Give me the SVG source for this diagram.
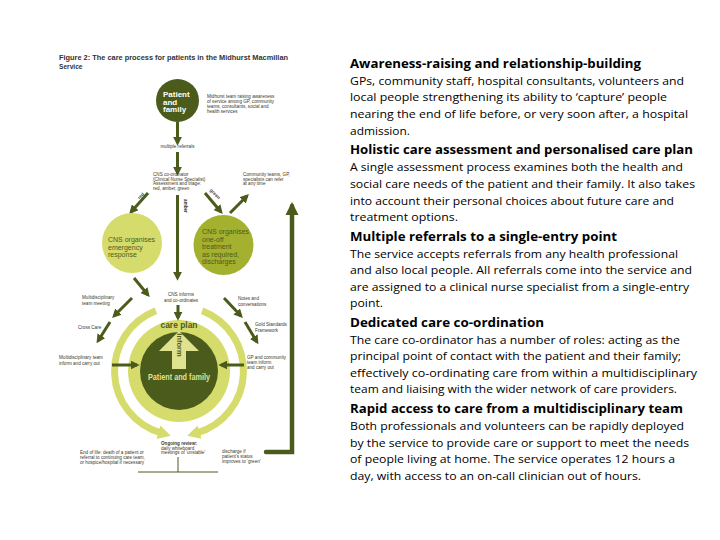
<svg xmlns="http://www.w3.org/2000/svg" width="720" height="540" viewBox="0 0 720 540">
<style>
.h{font-family:"Open Sans","Liberation Sans",sans-serif;font-weight:bold;font-size:12.5px;fill:#000}
.b{font-family:"Open Sans","Liberation Sans",sans-serif;font-size:11.5px;fill:#000}
.t{font-family:"Liberation Sans",sans-serif;font-weight:bold;font-size:6.6px;fill:#333}
.s{font-family:"Liberation Sans",sans-serif;font-size:4.6px;fill:#3a3a2a}
.sb{font-family:"Liberation Sans",sans-serif;font-size:4.6px;font-weight:bold;fill:#3a3a2a}
.c{font-family:"Liberation Sans",sans-serif;font-size:7px;fill:#4b5b1c}
.w{font-family:"Liberation Sans",sans-serif;font-weight:bold;font-size:8px;fill:#fff}
.dk{fill:#4b5b1c}
.lt{fill:#d6dc6c}
.md{fill:#a4b12f}
.ar{stroke:#4b5b1c;stroke-width:3;fill:none;marker-end:url(#ah)}
.ring{stroke:#d6dc6c;stroke-width:7;fill:none;marker-end:url(#lh)}
</style>
<defs>
<marker id="ah" viewBox="0 0 10 10" refX="7" refY="5" markerWidth="3" markerHeight="3" orient="auto" markerUnits="strokeWidth"><path d="M0,0 L10,5 L0,10 z" fill="#4b5b1c"/></marker>
<marker id="lh" viewBox="0 0 14 14" refX="3" refY="7" markerWidth="14" markerHeight="14" orient="auto" markerUnits="userSpaceOnUse"><path d="M0,0 L13,7 L0,14 z" fill="#d6dc6c"/></marker>
</defs>
<rect width="720" height="540" fill="#fff"/>

<g id="title">
<text class="t" x="59" y="60" textLength="229" lengthAdjust="spacingAndGlyphs">Figure 2: The care process for patients in the Midhurst Macmillan</text>
<text class="t" x="59" y="69">Service</text>
</g>

<g id="rings">
<circle cx="179" cy="371" r="51" class="lt"/>
<path class="ring" d="M155.9,310.8 A64.5,64.5 0 0 0 161.2,433"/>
<path class="ring" d="M202.1,310.8 A64.5,64.5 0 0 1 196.8,433"/>
</g>

<g id="connectors">
<line class="ar" x1="177.5" y1="122" x2="177.5" y2="143"/>
<line class="ar" x1="177.5" y1="152" x2="177.5" y2="173"/>
<line class="ar" x1="148" y1="193" x2="131" y2="212"/>
<line class="ar" x1="177.5" y1="195" x2="177.5" y2="278"/>
<line class="ar" x1="205" y1="193" x2="221" y2="212"/>
<line class="ar" x1="230" y1="213" x2="247" y2="196"/>
<line class="ar" x1="134" y1="278" x2="148" y2="295"/>
<line class="ar" x1="178" y1="305" x2="178" y2="318"/>
<line class="ar" x1="132" y1="298" x2="114" y2="316"/>
<line class="ar" x1="110" y1="322" x2="98" y2="341"/>
<line class="ar" x1="112" y1="365" x2="137" y2="365"/>
<line class="ar" x1="224" y1="298" x2="241" y2="316"/>
<line class="ar" x1="245" y1="322" x2="257" y2="342"/>
<line class="ar" x1="244" y1="365" x2="221" y2="365"/>
<path d="M266,452 L292,452 L292,206" stroke="#4b5b1c" stroke-width="4.5" fill="none" stroke-linecap="round" marker-end="url(#ah)"/>
<path d="M138,472 L218,472 M178,457 L178,472" stroke="#4b5b1c" stroke-width="1" fill="none"/>
</g>

<g id="patient-top">
<circle cx="177.5" cy="100.5" r="21.5" class="dk"/>
<text class="w" x="163" y="97">Patient</text>
<text class="w" x="163" y="104.5">and</text>
<text class="w" x="163" y="112">family</text>
<text class="s" x="207" y="98">Midhurst team raising awareness</text>
<text class="s" x="207" y="103">of service among GP, community</text>
<text class="s" x="207" y="108">teams, consultants, social and</text>
<text class="s" x="207" y="113">health services</text>
</g>

<g id="referrals">
<text class="s" x="177.5" y="148" text-anchor="middle">multiple referrals</text>
</g>

<g id="coordinator">
<text class="s" x="153" y="176">CNS co-ordinator</text>
<text class="s" x="153" y="180.5">(Clinical Nurse Specialist)</text>
<text class="s" x="153" y="185">Assessment and triage:</text>
<text class="s" x="153" y="189.5">red, amber, green</text>
<text class="sb" transform="translate(142,197) rotate(-45)" text-anchor="middle">red</text>
<text class="sb" transform="translate(184,206) rotate(90)" text-anchor="middle">amber</text>
<text class="sb" transform="translate(214,195) rotate(45)" text-anchor="middle">green</text>
</g>

<g id="community">
<text class="s" x="243" y="176">Community teams, GP,</text>
<text class="s" x="243" y="180.5">specialists can refer</text>
<text class="s" x="243" y="185">at any time</text>
</g>

<g id="emergency">
<circle cx="132" cy="243" r="30" class="lt"/>
<text class="c" x="108" y="242">CNS organises</text>
<text class="c" x="108" y="249.5">emergency</text>
<text class="c" x="108" y="257">response</text>
</g>

<g id="oneoff">
<circle cx="223.5" cy="245" r="30" class="md"/>
<text class="c" x="202" y="234">CNS organises</text>
<text class="c" x="202" y="241.5">one-off</text>
<text class="c" x="202" y="249">treatment</text>
<text class="c" x="202" y="256.5">as required,</text>
<text class="c" x="202" y="264">discharges</text>
</g>

<g id="informs">
<text class="s" x="181" y="296" text-anchor="middle">CNS informs</text>
<text class="s" x="181" y="301.5" text-anchor="middle">and co-ordinates</text>
</g>

<g id="careplan">
<circle cx="179" cy="371" r="39" class="dk"/>
<text x="179" y="328" text-anchor="middle" textLength="37" lengthAdjust="spacingAndGlyphs" style="font-family:'Liberation Sans',sans-serif;font-weight:bold;font-size:9px;fill:#4b5b1c">care plan</text>
<polygon points="179,331 199,351 186,351 186,369 172,369 172,351 159,351" fill="#dfe38f"/>
<text transform="translate(179,345) rotate(90)" text-anchor="middle" dominant-baseline="central" style="font-family:'Liberation Sans',sans-serif;font-weight:bold;font-size:7.5px;fill:#4b5b1c">Inform</text>
<text x="179" y="380" text-anchor="middle" textLength="62" lengthAdjust="spacingAndGlyphs" style="font-family:'Liberation Sans',sans-serif;font-weight:bold;font-size:8.5px;fill:#dfe38f">Patient and family</text>
</g>

<g id="left-labels">
<text class="s" x="82" y="299">Multidisciplinary</text>
<text class="s" x="82" y="304.5">team meeting</text>
<text class="s" x="78" y="329">Cross Care</text>
<text class="s" x="59" y="359">Multidisciplinary team</text>
<text class="s" x="59" y="364.5">inform and carry out</text>
</g>

<g id="right-labels">
<text class="s" x="238" y="300">Notes and</text>
<text class="s" x="238" y="305.5">conversations</text>
<text class="s" x="255" y="326">Gold Standards</text>
<text class="s" x="255" y="331.5">Framework</text>
<text class="s" x="247" y="359">GP and community</text>
<text class="s" x="247" y="364">team inform</text>
<text class="s" x="247" y="369">and carry out</text>
</g>

<g id="bottom-labels">
<text class="s" x="80" y="454">End of life: death of a patient or</text>
<text class="s" x="80" y="459">referral to continuing care team,</text>
<text class="s" x="80" y="464">or hospice/hospital if necessary</text>
<text class="sb" x="161" y="445">Ongoing review:</text>
<text class="s" x="161" y="449.5">daily whiteboard</text>
<text class="s" x="161" y="454">meetings of ‘unstable’</text>
<text class="s" x="222" y="453">discharge if</text>
<text class="s" x="222" y="458">patient’s status</text>
<text class="s" x="222" y="463">improves to ‘green’</text>
</g>

<g id="text-column">
<text class="h" x="350" y="68" textLength="291" lengthAdjust="spacingAndGlyphs">Awareness-raising and relationship-building</text>
<text class="b" x="350" y="84.5" textLength="334" lengthAdjust="spacingAndGlyphs">GPs, community staff, hospital consultants, volunteers and</text>
<text class="b" x="350" y="101" textLength="317" lengthAdjust="spacingAndGlyphs">local people strengthening its ability to ‘capture’ people</text>
<text class="b" x="350" y="118" textLength="338" lengthAdjust="spacingAndGlyphs">nearing the end of life before, or very soon after, a hospital</text>
<text class="b" x="350" y="134.5" textLength="60" lengthAdjust="spacingAndGlyphs">admission.</text>

<text class="h" x="350" y="154" textLength="343" lengthAdjust="spacingAndGlyphs">Holistic care assessment and personalised care plan</text>
<text class="b" x="350" y="171" textLength="333" lengthAdjust="spacingAndGlyphs">A single assessment process examines both the health and</text>
<text class="b" x="350" y="188" textLength="345" lengthAdjust="spacingAndGlyphs">social care needs of the patient and their family. It also takes</text>
<text class="b" x="350" y="204.5" textLength="324" lengthAdjust="spacingAndGlyphs">into account their personal choices about future care and</text>
<text class="b" x="350" y="221" textLength="108" lengthAdjust="spacingAndGlyphs">treatment options.</text>

<text class="h" x="350" y="241" textLength="267" lengthAdjust="spacingAndGlyphs">Multiple referrals to a single-entry point</text>
<text class="b" x="350" y="257.5" textLength="328" lengthAdjust="spacingAndGlyphs">The service accepts referrals from any health professional</text>
<text class="b" x="350" y="274" textLength="342" lengthAdjust="spacingAndGlyphs">and also local people. All referrals come into the service and</text>
<text class="b" x="350" y="291" textLength="339" lengthAdjust="spacingAndGlyphs">are assigned to a clinical nurse specialist from a single-entry</text>
<text class="b" x="350" y="307" textLength="33" lengthAdjust="spacingAndGlyphs">point.</text>

<text class="h" x="350" y="327" textLength="194" lengthAdjust="spacingAndGlyphs">Dedicated care co-ordination</text>
<text class="b" x="350" y="343.5" textLength="330" lengthAdjust="spacingAndGlyphs">The care co-ordinator has a number of roles: acting as the</text>
<text class="b" x="350" y="360" textLength="331" lengthAdjust="spacingAndGlyphs">principal point of contact with the patient and their family;</text>
<text class="b" x="350" y="376.5" textLength="347" lengthAdjust="spacingAndGlyphs">effectively co-ordinating care from within a  multidisciplinary</text>
<text class="b" x="350" y="393" textLength="327" lengthAdjust="spacingAndGlyphs">team and liaising with the wider network of care providers.</text>

<text class="h" x="350" y="413" textLength="333" lengthAdjust="spacingAndGlyphs">Rapid access to care from a multidisciplinary team</text>
<text class="b" x="350" y="430" textLength="334" lengthAdjust="spacingAndGlyphs">Both professionals and volunteers can be rapidly deployed</text>
<text class="b" x="350" y="447" textLength="339" lengthAdjust="spacingAndGlyphs">by the service to provide care or support to meet the needs</text>
<text class="b" x="350" y="463" textLength="325" lengthAdjust="spacingAndGlyphs">of people living at home. The service operates 12 hours a</text>
<text class="b" x="350" y="480" textLength="291" lengthAdjust="spacingAndGlyphs">day, with access to an on-call clinician out of hours.</text>
</g>
</svg>
